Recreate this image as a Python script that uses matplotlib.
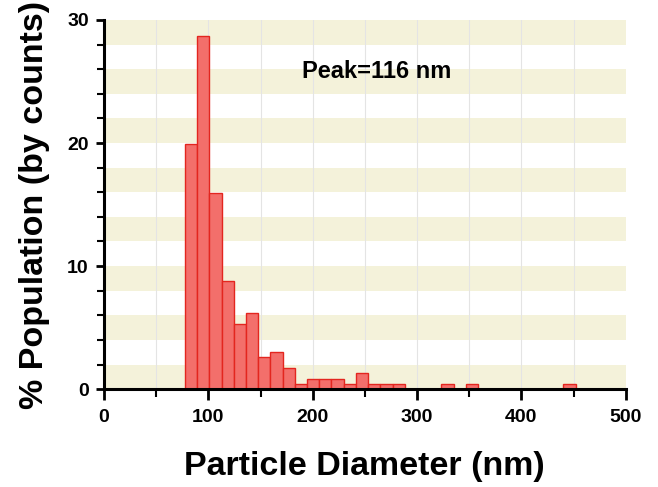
import matplotlib
matplotlib.use('Agg')
import matplotlib.pyplot as plt
import numpy as np

# histogram bins (nm) and % population per bin
bin_start = 77.6
bin_width = 11.7
heights = [19.9, 28.7, 15.9, 8.8, 5.3, 6.15, 2.6, 3.0, 1.7, 0.4,
           0.8, 0.8, 0.8, 0.4, 1.3, 0.4, 0.4, 0.4, 0, 0,
           0, 0.4, 0, 0.4, 0, 0, 0, 0, 0, 0,
           0, 0.4]
x_ticks = [0, 100, 200, 300, 400, 500]
y_ticks = [0, 10, 20, 30]
peak_label = 'Peak=116 nm'

plt.rcParams['font.family'] = ['Liberation Sans', 'DejaVu Sans']
plt.rcParams['font.weight'] = 'bold'

fig = plt.figure(figsize=(6.58, 4.87), dpi=100)
ax = fig.add_axes([0.158, 0.201, 0.793, 0.758])

# alternating background bands every 2 units
for y0 in range(0, 30, 4):
    ax.axhspan(y0, y0 + 2, color='#F4F2DA', zorder=0, lw=0)
for xv in range(50, 500, 50):
    ax.axvline(xv, color='#E4E4E4', lw=0.8, zorder=0.5)

lefts = bin_start + bin_width * np.arange(len(heights))
ax.bar(lefts, heights, width=bin_width, align='edge',
       facecolor='#F36F6B', edgecolor='#E3261F', linewidth=1.0, zorder=2)

ax.text(190, 25.8, peak_label, fontsize=17, fontweight='bold', ha='left', va='center')

ax.set_xlim(0, 500)
ax.set_ylim(0, 30)
ax.set_xticks(x_ticks)
ax.set_xticks(range(50, 500, 100), minor=True)
ax.set_yticks(y_ticks)
ax.set_yticks([v for v in range(2, 30, 2) if v % 10 != 0], minor=True)

for s in ['top', 'right']:
    ax.spines[s].set_visible(False)
for s in ['left', 'bottom']:
    ax.spines[s].set_linewidth(2.2)

ax.tick_params(which='major', direction='out', length=8, width=2, labelsize=14, pad=6)
ax.tick_params(which='minor', direction='out', length=6, width=1.5)
ax.tick_params(axis='y', which='major', length=6, pad=5)
ax.tick_params(axis='y', which='minor', length=5)

ax.set_xlabel('Particle Diameter (nm)', fontsize=24.5, fontweight='bold', labelpad=18)
ax.set_ylabel('% Population (by counts)', fontsize=24.5, fontweight='bold', labelpad=12)

fig.savefig('out.png', dpi=100)
